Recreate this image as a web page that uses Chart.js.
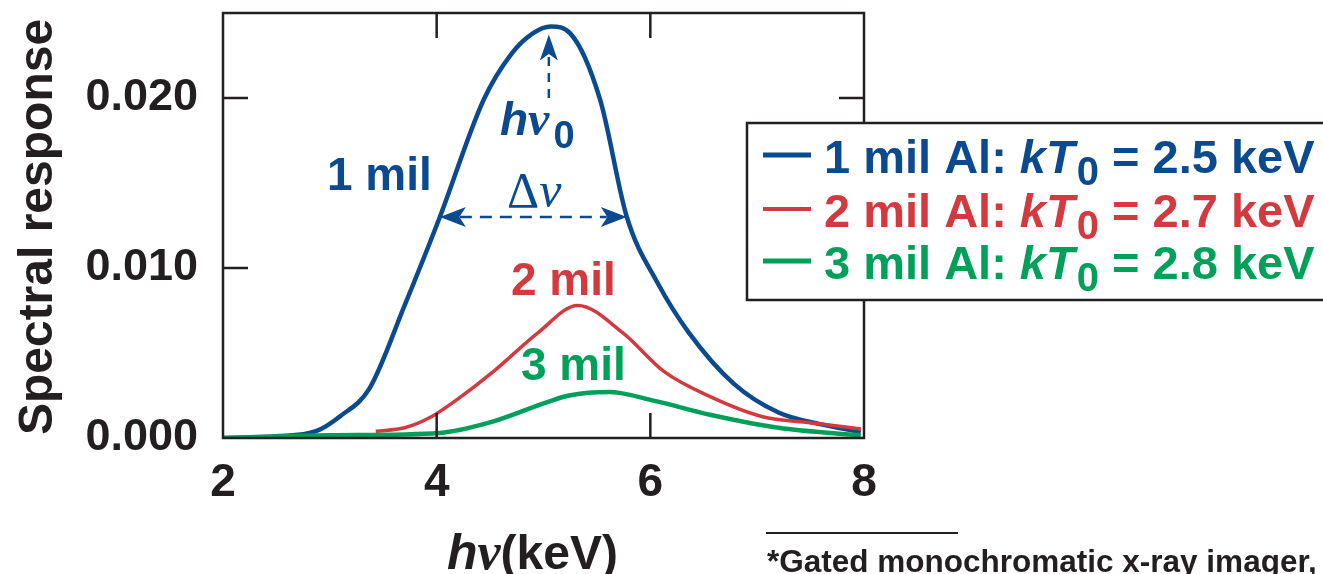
<!DOCTYPE html>
<html>
<head>
<meta charset="utf-8">
<script src="https://cdn.jsdelivr.net/npm/chart.js@4.4.1/dist/chart.umd.min.js"></script>
<style>
html, body { margin: 0; padding: 0; background: #fff; }
#wrap { width: 1323px; height: 574px; position: relative; }
</style>
</head>
<body>
<div id="wrap"><canvas id="chart" width="1323" height="574"></canvas></div>
<script>
// values (photon energy in keV, spectral response)
var energy1 = [2.0, 2.5, 2.87, 3.1, 3.37, 3.7, 4.03, 4.44, 4.70, 4.9, 5.07, 5.25, 5.53, 5.78, 6.07, 6.36, 6.78, 7.2, 7.6, 7.97];
var resp1   = [0, 0.0001, 0.0004, 0.0013, 0.0029, 0.0078, 0.0130, 0.0199, 0.0226, 0.0238, 0.0242, 0.0238, 0.0199, 0.0130, 0.0091, 0.0062, 0.0032, 0.0015, 0.0008, 0.00035];

var energy2 = [3.43, 3.7, 3.95, 4.2, 4.53, 4.95, 5.32, 5.74, 6.13, 6.57, 7.05, 7.5, 7.97];
var resp2   = [0.0004, 0.0006, 0.00125, 0.0023, 0.0039, 0.0062, 0.0078, 0.0062, 0.0039, 0.0024, 0.00125, 0.0009, 0.00053];

var energy3 = [2.0, 3.0, 4.03, 4.49, 5.03, 5.24, 5.61, 6.03, 6.57, 7.2, 7.97];
var resp3   = [0, 0.00016, 0.0003, 0.0009, 0.0021, 0.0025, 0.0027, 0.0022, 0.00135, 0.0006, 0.00014];

var seriesNames = ['1 mil', '2 mil', '3 mil'];
var legendTemps = ['2.5', '2.7', '2.8'];
var xTicks = [2, 4, 6, 8];
var yTicks = [0, 0.01, 0.02];

var BLUE = '#0b4a8e';
var RED = '#d23a40';
var GREEN = '#00a05a';
var INK = '#231f20';
var SANS = '"Liberation Sans", Arial, sans-serif';
var SERIF = '"Liberation Serif", "Times New Roman", serif';

function pts(xs, ys) {
    return xs.map(function (x, i) { return { x: x, y: ys[i] }; });
}

// draws pieces of text one after another, each with its own font
function richText(ctx, x, y, parts, color) {
    ctx.fillStyle = color;
    ctx.textBaseline = 'alphabetic';
    ctx.textAlign = 'left';
    parts.forEach(function (p) {
        ctx.font = p.f;
        ctx.fillText(p.t, x, y + (p.dy || 0));
        x += ctx.measureText(p.t).width + (p.gap || 0);
    });
    return x;
}

function arrowHead(ctx, x, y, angle, len, half) {
    ctx.save();
    ctx.translate(x, y);
    ctx.rotate(angle);
    ctx.beginPath();
    ctx.moveTo(0, 0);
    ctx.lineTo(-len, -half);
    ctx.lineTo(-len * 0.75, 0);
    ctx.lineTo(-len, half);
    ctx.closePath();
    ctx.fill();
    ctx.restore();
}

var framePlugin = {
    id: 'frame',
    afterDatasetsDraw: function (chart) {
        var ctx = chart.ctx;
        var a = chart.chartArea;
        var xs = chart.scales.x, ys = chart.scales.y;
        ctx.save();
        ctx.strokeStyle = INK;
        ctx.lineWidth = 2.5;
        ctx.strokeRect(a.left, a.top, a.right - a.left, a.bottom - a.top);
        // inward ticks
        var tl = 25;
        ctx.beginPath();
        xTicks.forEach(function (v) {
            var px = xs.getPixelForValue(v);
            if (px <= a.left + 1 || px >= a.right - 1) return;
            ctx.moveTo(px, a.bottom); ctx.lineTo(px, a.bottom - tl);
            ctx.moveTo(px, a.top); ctx.lineTo(px, a.top + tl);
        });
        yTicks.forEach(function (v) {
            var py = ys.getPixelForValue(v);
            if (py >= a.bottom - 1 || py <= a.top + 1) return;
            ctx.moveTo(a.left, py); ctx.lineTo(a.left + tl, py);
            ctx.moveTo(a.right, py); ctx.lineTo(a.right - tl, py);
        });
        ctx.stroke();

        // curve labels
        richText(ctx, 327, 190, [{ t: seriesNames[0], f: 'bold 46px ' + SANS }], BLUE);
        richText(ctx, 511, 295, [{ t: seriesNames[1], f: 'bold 46px ' + SANS }], RED);
        richText(ctx, 521, 380, [{ t: seriesNames[2], f: 'bold 46px ' + SANS }], GREEN);

        // peak marker
        richText(ctx, 500, 135, [
            { t: 'h', f: 'italic bold 46px ' + SANS },
            { t: '\u03bd', f: 'italic bold 48px ' + SERIF, gap: 4 },
            { t: '0', f: 'bold 38px ' + SANS, dy: 13 }
        ], BLUE);
        ctx.strokeStyle = BLUE;
        ctx.fillStyle = BLUE;
        ctx.lineWidth = 2.5;
        ctx.setLineDash([9, 7]);
        var px0 = xs.getPixelForValue(5.05);
        var pyPeak = ys.getPixelForValue(0.0242);
        ctx.beginPath();
        ctx.moveTo(px0, 98); ctx.lineTo(px0, pyPeak + 20);
        ctx.stroke();
        ctx.setLineDash([]);
        arrowHead(ctx, px0, pyPeak + 8, -Math.PI / 2, 26, 9);

        // width marker
        richText(ctx, 507, 207, [
            { t: '\u0394', f: '50px ' + SERIF },
            { t: '\u03bd', f: 'italic 50px ' + SERIF }
        ], BLUE);
        var yW = ys.getPixelForValue(0.0130);
        var xl = xs.getPixelForValue(4.03), xr = xs.getPixelForValue(5.78);
        ctx.setLineDash([12, 8]);
        ctx.beginPath();
        ctx.moveTo(xl + 20, yW); ctx.lineTo(xr - 20, yW);
        ctx.stroke();
        ctx.setLineDash([]);
        arrowHead(ctx, xl, yW, Math.PI, 26, 10);
        arrowHead(ctx, xr, yW, 0, 26, 10);

        // legend box
        ctx.fillStyle = '#fff';
        ctx.fillRect(747, 123, 600, 177);
        ctx.strokeStyle = INK;
        ctx.lineWidth = 2.5;
        ctx.beginPath();
        ctx.moveTo(1330, 123); ctx.lineTo(747, 123); ctx.lineTo(747, 300); ctx.lineTo(1330, 300);
        ctx.stroke();
        var cols = [BLUE, RED, GREEN];
        var rows = [173, 227, 279];
        chart.data.datasets.forEach(function (ds, i) {
            var y = rows[i];
            ctx.strokeStyle = cols[i];
            ctx.lineWidth = i === 1 ? 4 : 5;
            ctx.beginPath();
            ctx.moveTo(763, y - 18); ctx.lineTo(811, y - 18);
            ctx.stroke();
            richText(ctx, 824, y, [
                { t: ds.label + ' Al: ', f: 'bold 47px ' + SANS },
                { t: 'kT', f: 'italic bold 47px ' + SANS, gap: 2 },
                { t: '0', f: 'bold 40px ' + SANS, dy: 12 },
                { t: ' = ' + legendTemps[i] + ' keV', f: 'bold 47px ' + SANS }
            ], cols[i]);
        });

        // axis titles
        ctx.save();
        ctx.translate(52, 227);
        ctx.rotate(-Math.PI / 2);
        ctx.fillStyle = INK;
        ctx.font = 'bold 48px ' + SANS;
        ctx.textAlign = 'center';
        ctx.textBaseline = 'alphabetic';
        ctx.fillText('Spectral response', 0, 0);
        ctx.restore();

        richText(ctx, 447, 569, [
            { t: 'h', f: 'italic bold 50px ' + SANS },
            { t: '\u03bd', f: 'italic bold 52px ' + SERIF },
            { t: '(keV)', f: 'bold 48px ' + SANS }
        ], INK);

        // footnote
        ctx.strokeStyle = INK;
        ctx.lineWidth = 2;
        ctx.beginPath();
        ctx.moveTo(766, 533); ctx.lineTo(958, 533);
        ctx.stroke();
        richText(ctx, 767, 572, [{ t: '*Gated monochromatic x-ray imager,', f: 'bold 31.5px ' + SANS }], INK);
        ctx.restore();
    }
};

var ctx = document.getElementById('chart').getContext('2d');
var chart = new Chart(ctx, {
    type: 'line',
    data: {
        datasets: [{
            label: seriesNames[0],
            data: pts(energy1, resp1),
            borderColor: BLUE,
            borderWidth: 4.5,
            order: 3
        }, {
            label: seriesNames[1],
            data: pts(energy2, resp2),
            borderColor: RED,
            borderWidth: 3.5,
            order: 2
        }, {
            label: seriesNames[2],
            data: pts(energy3, resp3),
            borderColor: GREEN,
            borderWidth: 4.5,
            order: 1
        }]
    },
    options: {
        responsive: false,
        animation: false,
        events: [],
        elements: { point: { radius: 0 }, line: { cubicInterpolationMode: 'monotone', fill: false } },
        layout: { padding: { left: 0, top: 13, right: 459, bottom: 0 } },
        plugins: { legend: { display: false }, tooltip: { enabled: false } },
        scales: {
            x: {
                type: 'linear',
                min: 2,
                max: 8,
                afterBuildTicks: function (scale) {
                    scale.ticks = xTicks.map(function (v) { return { value: v }; });
                },
                afterFit: function (scale) {
                    scale.height = 136;
                    scale.paddingLeft = 0;
                    scale.paddingRight = 0;
                },
                grid: { display: false, drawTicks: false },
                border: { display: false },
                ticks: {
                    padding: 18,
                    color: INK,
                    font: { family: SANS, size: 46, weight: 'bold' },
                    maxRotation: 0,
                    callback: function (v) { return String(v); }
                }
            },
            y: {
                type: 'linear',
                min: 0,
                max: 0.025,
                afterBuildTicks: function (scale) {
                    scale.ticks = yTicks.map(function (v) { return { value: v }; });
                },
                afterFit: function (scale) {
                    scale.width = 223;
                    scale.paddingTop = 0;
                    scale.paddingBottom = 0;
                },
                grid: { display: false, drawTicks: false },
                border: { display: false },
                ticks: {
                    padding: 25,
                    color: INK,
                    font: { family: SANS, size: 45, weight: 'bold' },
                    callback: function (v) { return v.toFixed(3); }
                }
            }
        }
    },
    plugins: [framePlugin]
});
</script>
</body>
</html>
